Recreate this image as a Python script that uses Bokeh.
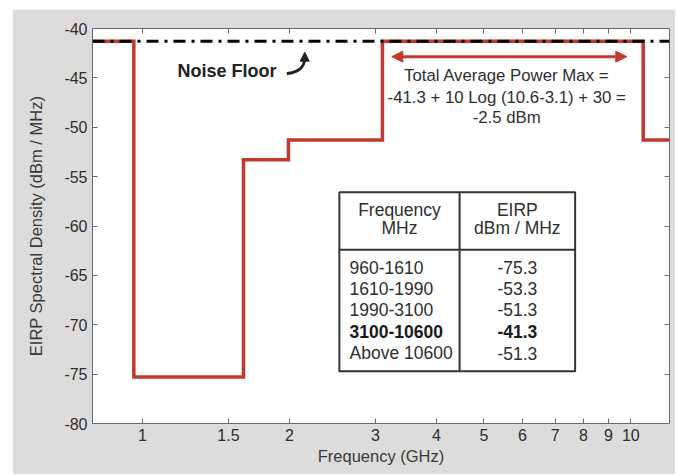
from bokeh.plotting import figure
from bokeh.models import (FixedTicker, LogAxis, LinearAxis, Span, Arrow, NormalHead,
                          CustomJSTickFormatter, Range1d)
from bokeh.core.properties import value
from bokeh.embed import file_html
from bokeh.resources import INLINE

# ---------------- data ----------------
band_edges_ghz = [0.79, 0.96, 1.61, 1.99, 3.1, 10.6, 12.0]
eirp_levels = [-41.3, -75.3, -53.3, -51.3, -41.3, -51.3]
noise_floor = -41.3
x_ticks = [1, 1.5, 2, 3, 4, 5, 6, 7, 8, 9, 10]
y_ticks = [-80, -75, -70, -65, -60, -55, -50, -45, -40]

table_freq = ["960-1610", "1610-1990", "1990-3100", "3100-10600", "Above 10600"]
table_eirp = ["-75.3", "-53.3", "-51.3", "-41.3", "-51.3"]
table_head_left = ["Frequency", "MHz"]
table_head_right = ["EIRP", "dBm / MHz"]
bold_row = 3
power_text = ["Total Average Power Max =", "-41.3 + 10 Log (10.6-3.1) + 30 =", "-2.5 dBm"]

# ---------------- layout (annotation placement) ----------------
RED = "#c23a2c"
FONT = "Liberation Sans"
TXT = "#2e2e2e"
AX = "#6a6a6a"
TFS = "17.5px"

tbl_left, tbl_right, tbl_div = 2.53, 7.69, 4.46
tbl_top, tbl_bot, tbl_sep = -56.58, -74.70, -62.41
head_y = [-58.33, -60.25]
row_y = [-64.17, -66.36, -68.48, -70.65, -72.88]
col_left_x = 2.654
col_left_c = (tbl_left * tbl_div) ** 0.5
col_right_c = (tbl_div * tbl_right) ** 0.5

power_x = 5.57
power_y = [-44.76, -46.99, -49.01]
range_arrow = (3.24, 9.81, -42.85)

p = figure(width=663, height=465, x_axis_type="log",
           x_range=Range1d(band_edges_ghz[0], band_edges_ghz[-1]),
           y_range=Range1d(-80, -40),
           output_backend="svg", toolbar_location=None,
           min_border_left=80, min_border_right=6, min_border_top=19, min_border_bottom=51)
p.margin = (9, 0, 0, 12)
p.border_fill_color = "#dcdcdc"
p.background_fill_color = "white"
p.outline_line_color = None
p.xgrid.visible = False
p.ygrid.visible = False

fmt = CustomJSTickFormatter(code="return String(tick);")
blank = CustomJSTickFormatter(code="return '';")
for ax in p.xaxis:
    ax.ticker = FixedTicker(ticks=x_ticks)
    ax.formatter = fmt
    ax.axis_label = "Frequency (GHz)"
for ax in p.yaxis:
    ax.ticker = FixedTicker(ticks=y_ticks)
    ax.formatter = fmt
    ax.axis_label = "EIRP Spectral Density (dBm / MHz)"

for ax in list(p.xaxis) + list(p.yaxis):
    ax.major_tick_in = 5
    ax.major_tick_out = 0
    ax.minor_tick_line_color = None
    ax.axis_line_color = AX
    ax.major_tick_line_color = AX
    ax.major_label_text_font = FONT
    ax.major_label_text_font_size = "16px"
    ax.major_label_text_color = TXT
    ax.axis_label_text_font = FONT
    ax.axis_label_text_font_size = "16.5px"
    ax.axis_label_text_font_style = "normal"
    ax.axis_label_text_color = "#3a3a3a"
    ax.major_label_standoff = 5
p.xaxis.axis_label_standoff = 3
p.yaxis.axis_label_standoff = 16

top = LogAxis(ticker=FixedTicker(ticks=x_ticks), formatter=blank,
              major_tick_in=5, major_tick_out=0, minor_tick_line_color=None,
              axis_line_color=AX, major_tick_line_color=AX, major_label_standoff=0)
right = LinearAxis(ticker=FixedTicker(ticks=y_ticks), formatter=blank,
                   major_tick_in=5, major_tick_out=0, minor_tick_line_color=None,
                   axis_line_color=AX, major_tick_line_color=AX, major_label_standoff=0)
p.add_layout(top, "above")
p.add_layout(right, "right")

# mask step line
step_y = eirp_levels + [eirp_levels[-1]]
p.step(band_edges_ghz, step_y, mode="after", line_color=RED, line_width=3.5, line_join="miter")

# noise floor
p.add_layout(Span(location=noise_floor, dimension="width", line_color="black",
                  line_width=3, line_dash="12 6 3 6", level="overlay"))

# noise floor label + curved arrow
p.text(x=[1.18], y=[-44.32], text=["Noise Floor"], text_font=value(FONT),
       text_font_size="18px", text_font_style="bold", text_color="#222222",
       text_align="left", text_baseline="middle")
p.bezier(x0=[1.975], y0=[-44.56], x1=[2.149], y1=[-43.0],
         cx0=[2.09], cy0=[-44.46], cx1=[2.149], cy1=[-43.85],
         line_color="#222222", line_width=3)
p.add_layout(Arrow(x_start=2.149, y_start=-43.1, x_end=2.149, y_end=-42.4,
                   line_color="#222222", line_width=2,
                   end=NormalHead(size=9, fill_color="#222222", line_color="#222222")))

# total power range arrow + text
p.add_layout(Arrow(x_start=range_arrow[0], y_start=range_arrow[2],
                   x_end=range_arrow[1], y_end=range_arrow[2],
                   line_color=RED, line_width=3,
                   start=NormalHead(size=11, fill_color=RED, line_color=RED),
                   end=NormalHead(size=11, fill_color=RED, line_color=RED)))
p.text(x=[power_x] * 3, y=power_y, text=power_text, text_font=value(FONT),
       text_font_size="16.8px", text_color=TXT, text_align="center", text_baseline="middle")

# table
p.quad(left=[tbl_left], right=[tbl_right], top=[tbl_top], bottom=[tbl_bot],
       fill_color="white", line_color="#333333", line_width=2)
p.segment(x0=[tbl_div, tbl_left], y0=[tbl_top, tbl_sep], x1=[tbl_div, tbl_right], y1=[tbl_bot, tbl_sep],
          line_color="#333333", line_width=2)
p.text(x=[col_left_c] * 2, y=head_y, text=table_head_left, text_font=value(FONT),
       text_font_size=TFS, text_color=TXT, text_align="center", text_baseline="middle")
p.text(x=[col_right_c] * 2, y=head_y, text=table_head_right, text_font=value(FONT),
       text_font_size=TFS, text_color=TXT, text_align="center", text_baseline="middle")
norm = [i for i in range(len(table_freq)) if i != bold_row]
p.text(x=[col_left_x] * len(norm), y=[row_y[i] for i in norm], text=[table_freq[i] for i in norm],
       text_font=value(FONT), text_font_size=TFS, text_color=TXT,
       text_align="left", text_baseline="middle")
p.text(x=[col_right_c] * len(norm), y=[row_y[i] for i in norm], text=[table_eirp[i] for i in norm],
       text_font=value(FONT), text_font_size=TFS, text_color=TXT,
       text_align="center", text_baseline="middle")
p.text(x=[col_left_x], y=[row_y[bold_row]], text=[table_freq[bold_row]],
       text_font=value(FONT), text_font_size=TFS, text_font_style="bold", text_color="#1a1a1a",
       text_align="left", text_baseline="middle")
p.text(x=[col_right_c], y=[row_y[bold_row]], text=[table_eirp[bold_row]],
       text_font=value(FONT), text_font_size=TFS, text_font_style="bold", text_color="#1a1a1a",
       text_align="center", text_baseline="middle")

open("out.html", "w").write(file_html(p, INLINE))
